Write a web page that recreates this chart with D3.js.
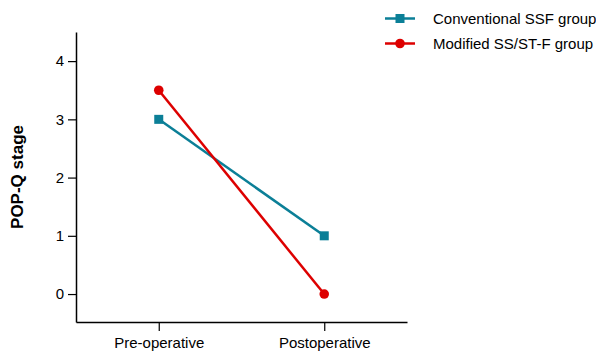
<!DOCTYPE html>
<html>
<head>
<meta charset="utf-8">
<script src="https://cdn.jsdelivr.net/npm/d3@7"></script>
<style>
  body { margin: 0; background: #fff; }
  svg { font-family: "Liberation Sans", Arial, sans-serif; }
</style>
</head>
<body>
<svg id="chart" width="596" height="356"></svg>
<script>
const timepoints = ["Pre-operative", "Postoperative"];
const conventional = [3, 1];
const modified = [3.5, 0];
const yTicks = [0, 1, 2, 3, 4];
const seriesNames = ["Conventional SSF group", "Modified SS/ST-F group"];

const width = 596, height = 356;
const margin = { top: 32, right: 189, bottom: 34, left: 76 };
const teal = "#0b7f97", red = "#dd0000";

const svg = d3.select("#chart");

const x = d3.scalePoint(timepoints, [margin.left, width - margin.right]).padding(0.5);
const y = d3.scaleLinear([-0.48, 4.5], [height - margin.bottom, margin.top]);

// axes
svg.append("g")
    .attr("transform", `translate(${margin.left},0)`)
    .call(d3.axisLeft(y).tickValues(yTicks).tickFormat(d3.format("d")).tickSize(8).tickSizeOuter(0).tickPadding(4))
    .call(g => g.select(".domain").attr("stroke-width", 1.5))
    .call(g => g.selectAll(".tick line").attr("stroke-width", 1.2))
    .call(g => g.selectAll("text").attr("font-size", 15).attr("fill", "#000"));

svg.append("g")
    .attr("transform", `translate(0,${height - margin.bottom})`)
    .call(d3.axisBottom(x).tickSize(9).tickSizeOuter(0).tickPadding(6))
    .call(g => g.select(".domain").attr("stroke-width", 1.5))
    .call(g => g.selectAll(".tick line").attr("stroke-width", 1.2))
    .call(g => g.selectAll("text").attr("font-size", 15).attr("fill", "#000"));

svg.append("text")
    .attr("transform", `translate(23,${(y(4.5) + y(-0.48)) / 2}) rotate(-90)`)
    .attr("text-anchor", "middle")
    .attr("font-size", 17)
    .attr("font-weight", "bold")
    .text("POP-Q stage");

const line = d3.line().x((d, i) => x(timepoints[i])).y(d => y(d));

// conventional (squares)
svg.append("path").datum(conventional)
    .attr("d", line).attr("fill", "none").attr("stroke", teal).attr("stroke-width", 2.5);
svg.append("g").selectAll("rect").data(conventional).join("rect")
    .attr("x", (d, i) => x(timepoints[i]) - 4.5)
    .attr("y", d => y(d) - 4.5)
    .attr("width", 9).attr("height", 9).attr("fill", teal);

// modified (circles)
svg.append("path").datum(modified)
    .attr("d", line).attr("fill", "none").attr("stroke", red).attr("stroke-width", 2.5);
svg.append("g").selectAll("circle").data(modified).join("circle")
    .attr("cx", (d, i) => x(timepoints[i]))
    .attr("cy", d => y(d))
    .attr("r", 4.8).attr("fill", red);

// legend
const legend = svg.append("g").attr("transform", "translate(385,18.5)");
seriesNames.forEach((name, i) => {
  const g = legend.append("g").attr("transform", `translate(0,${i * 25})`);
  const c = i === 0 ? teal : red;
  g.append("line").attr("x1", 0).attr("x2", 30).attr("stroke", c).attr("stroke-width", 2.5);
  if (i === 0) g.append("rect").attr("x", 10.5).attr("y", -4.5).attr("width", 9).attr("height", 9).attr("fill", c);
  else g.append("circle").attr("cx", 15).attr("r", 4.8).attr("fill", c);
  g.append("text").attr("x", 48).attr("dy", "0.35em").attr("font-size", 15).attr("fill", "#000").text(name);
});
</script>
</body>
</html>
